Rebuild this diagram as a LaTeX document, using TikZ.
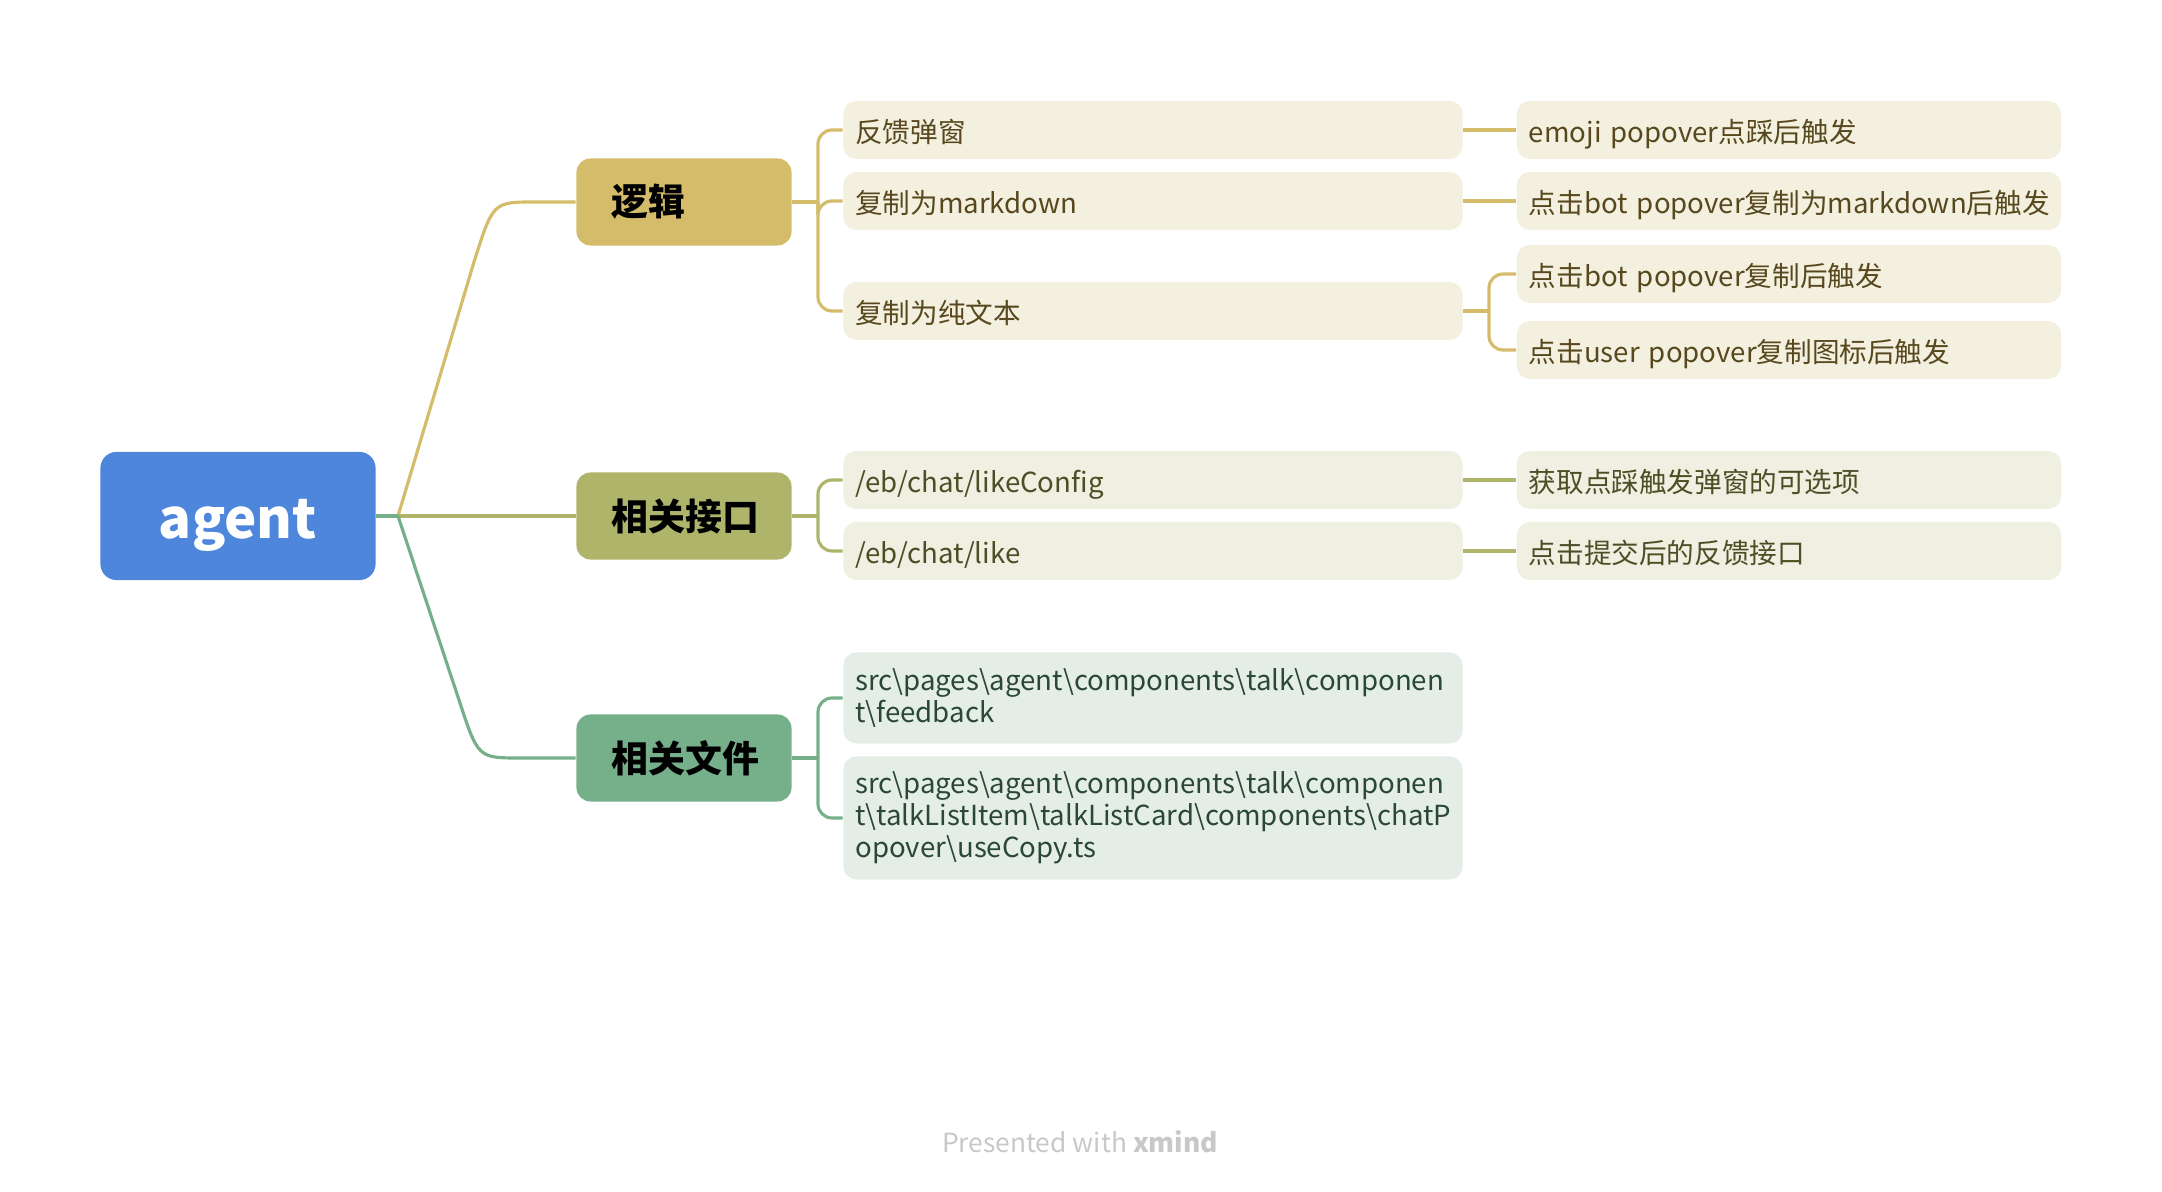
\documentclass[tikz,border=0pt]{standalone}
\usepackage{fontspec}
\setmainfont{Noto Sans CJK SC}
\definecolor{rootblue}{RGB}{78,134,219}
\definecolor{goldline}{RGB}{212,188,106}
\definecolor{oliveline}{RGB}{174,181,107}
\definecolor{greenline}{RGB}{118,176,138}
\definecolor{goldpale}{RGB}{244,240,224}
\definecolor{olivepale}{RGB}{239,239,226}
\definecolor{greenpale}{RGB}{228,238,230}
\definecolor{goldtext}{RGB}{88,72,30}
\definecolor{olivetext}{RGB}{78,78,38}
\definecolor{greentext}{RGB}{42,72,52}
\definecolor{creditgray}{RGB}{200,200,200}
\newcommand{\bs}{\textbackslash}
\tikzstyle{rootbox}=[fill=rootblue,text=white,rounded corners=0.16cm,minimum width=2.75cm,minimum height=1.28cm,text height=0.56cm,text depth=0.12cm,font=\fontsize{15.5}{18}\selectfont\bfseries]
\tikzstyle{topicbox}=[rounded corners=0.14cm,minimum width=2.15cm,minimum height=0.87cm,text width=1.45cm,inner xsep=0.35cm,align=left,font=\fontsize{10.5}{12}\selectfont\bfseries]
\tikzstyle{itembox}=[rounded corners=0.13cm,minimum width=6.19cm,minimum height=0.58cm,text width=5.95cm,inner xsep=0.12cm,align=left,font=\fontsize{7.85}{9.1}\selectfont]
\tikzstyle{oneline}=[text height=0.3cm,text depth=0.04cm]
\tikzstyle{notebox}=[itembox,oneline,minimum width=5.44cm,text width=5.2cm]
\tikzstyle{goldleaf}=[fill=goldpale,text=goldtext]
\tikzstyle{oliveleaf}=[fill=olivepale,text=olivetext]
\tikzstyle{greenleaf}=[fill=greenpale,text=greentext]
\tikzstyle{link}=[line width=0.9pt]
\tikzstyle{forklink}=[link,rounded corners=0.14cm]

\begin{document}
\begin{tikzpicture}[x=0.01cm,y=-0.01cm]
		\useasboundingbox (0,0) rectangle (2162,1192);

		\node[rootbox] (agent) at (238,516) {agent};
		\node[topicbox,fill=goldline] (logic) at (684,202) {逻辑};
		\node[topicbox,fill=oliveline] (api) at (684,516) {相关接口};
		\node[topicbox,fill=greenline] (files) at (684,758) {相关文件};

		\node[itembox,oneline,goldleaf] (popup) at (1153,130) {反馈弹窗};
		\node[itembox,oneline,goldleaf] (copymd) at (1153,201) {复制为markdown};
		\node[itembox,oneline,goldleaf] (copytxt) at (1153,311) {复制为纯文本};
		\node[itembox,oneline,oliveleaf] (likecfg) at (1153,480) {/eb/chat/likeConfig};
		\node[itembox,oneline,oliveleaf] (like) at (1153,551) {/eb/chat/like};
		\node[itembox,greenleaf,minimum height=0.91cm] (fbfile) at (1153,698) {src\bs pages\bs agent\bs components\bs talk\bs componen\\t\bs feedback};
		\node[itembox,greenleaf,minimum height=1.23cm] (copyfile) at (1153,818) {src\bs pages\bs agent\bs components\bs talk\bs componen\\t\bs talkListItem\bs talkListCard\bs components\bs chatP\\opover\bs useCopy.ts};

		\node[notebox,goldleaf] (popupnote) at (1789,130) {emoji popover点踩后触发};
		\node[notebox,goldleaf] (copymdnote) at (1789,201) {\mbox{点击bot popover复制为markdown后触发}};
		\node[notebox,goldleaf] (botnote) at (1789,274) {点击bot popover复制后触发};
		\node[notebox,goldleaf] (usernote) at (1789,350) {点击user popover复制图标后触发};
		\node[notebox,oliveleaf] (likecfgnote) at (1789,480) {获取点踩触发弹窗的可选项};
		\node[notebox,oliveleaf] (likenote) at (1789,551) {点击提交后的反馈接口};

		\node[text=creditgray,font=\fontsize{7.5}{9}\selectfont] (credit) at (1080,1142) {Presented with \textbf{xmind}};

		% root branches
		\coordinate (hub) at (398,516);
		\draw[link,goldline] (hub) -- (474,262) .. controls (493,202) .. (535,202) -- (logic.west);
		\draw[link,oliveline] (hub) -- (api.west);
		\draw[link,greenline] (hub) -- (459,700) .. controls (478,758) .. (520,758) -- (files.west);
		\draw[link,greenline] (agent.east) -- (hub);

		% topic forks
		\coordinate (logicfork) at (818,202);
		\coordinate (apifork) at (818,516);
		\coordinate (filesfork) at (818,758);
		\draw[link,goldline] (logic.east) -- (logicfork);
		\foreach \c in {popup,copymd,copytxt} { \draw[forklink,goldline] (logicfork) |- (\c.west);}
		\draw[link,oliveline] (api.east) -- (apifork);
		\foreach \c in {likecfg,like} { \draw[forklink,oliveline] (apifork) |- (\c.west);}
		\draw[link,greenline] (files.east) -- (filesfork);
		\foreach \c in {fbfile,copyfile} { \draw[forklink,greenline] (filesfork) |- (\c.west);}

		% notes
		\foreach \a / \b / \c in {popup/popupnote/goldline,copymd/copymdnote/goldline,likecfg/likecfgnote/oliveline,like/likenote/oliveline} { \draw[link,\c] (\a.east) -- (\b.west);}
		\coordinate (copyfork) at (1489,311);
		\draw[link,goldline] (copytxt.east) -- (copyfork);
		\foreach \c in {botnote,usernote} { \draw[forklink,goldline] (copyfork) |- (\c.west);}
	\end{tikzpicture}
\end{document}
